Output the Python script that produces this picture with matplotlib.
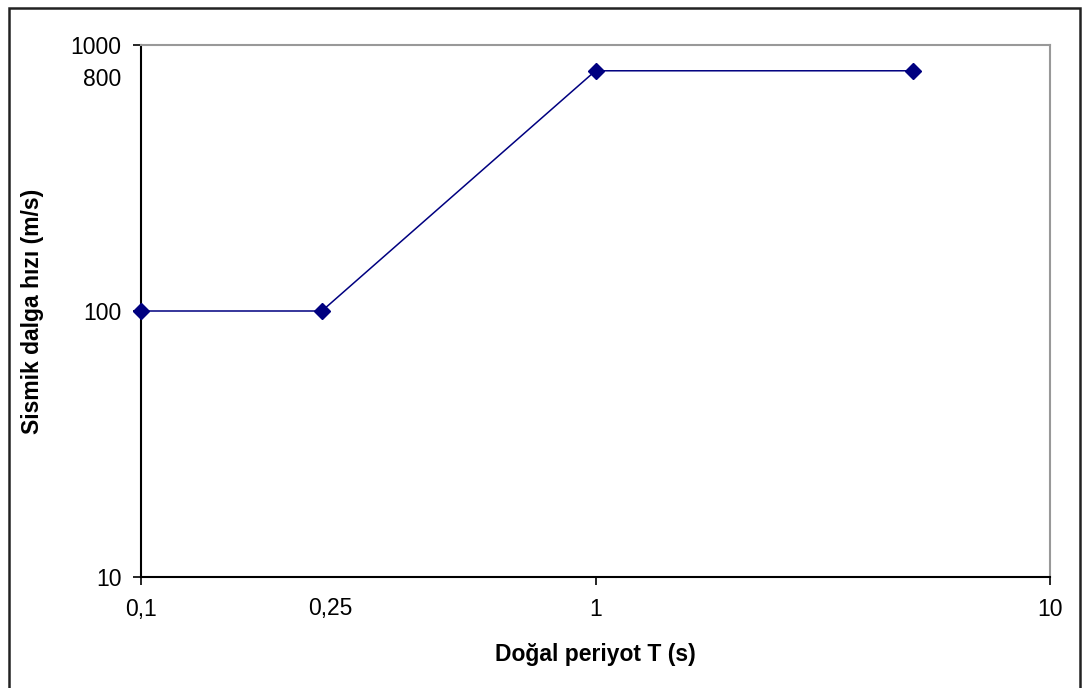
import matplotlib
matplotlib.use("Agg")
import matplotlib.pyplot as plt
import matplotlib.patches as mpatches
from matplotlib.ticker import FixedLocator, FixedFormatter, NullFormatter
import matplotlib.transforms as mtransforms

plt.rcParams['font.family'] = ['Liberation Sans', 'DejaVu Sans']

period = [0.1, 0.25, 1, 5]
velocity = [100, 100, 800, 800]
x_major = [0.1, 1, 10]
x_major_labels = ['0,1', '1', '10']
x_extra = 0.25
x_extra_label = '0,25'
y_major = [10, 100, 1000]
y_major_labels = ['10', '100', '1000']
y_extra = 800
y_extra_label = '800'

W, H = 1086, 688
TICK_FS = 16.5
LABEL_FS = 16.5
fig = plt.figure(figsize=(W / 100, H / 100), dpi=100)
ax = fig.add_axes([141 / W, 1 - 577 / H, (1050 - 141) / W, (577 - 45) / H])

ax.plot(period, velocity, color='#000080', lw=1.1, marker='D', ms=8,
        markerfacecolor='#000080', markeredgecolor='#000080', clip_on=False, zorder=5)

ax.set_xscale('log')
ax.set_yscale('log')
ax.set_xlim(0.1, 10)
ax.set_ylim(10, 1000)

ax.xaxis.set_major_locator(FixedLocator(x_major))
ax.xaxis.set_major_formatter(FixedFormatter(x_major_labels))
ax.xaxis.set_minor_locator(FixedLocator([]))
ax.xaxis.set_minor_formatter(NullFormatter())
ax.yaxis.set_major_locator(FixedLocator(y_major))
ax.yaxis.set_major_formatter(FixedFormatter(y_major_labels))
ax.yaxis.set_minor_locator(FixedLocator([]))
ax.yaxis.set_minor_formatter(NullFormatter())

ax.tick_params(axis='both', which='major', direction='out', length=6, width=1.2,
               color='black', labelsize=TICK_FS, labelcolor='black')
ax.tick_params(axis='x', which='major', pad=9)
ax.tick_params(axis='y', which='major', pad=8)

# extra labels (no tick marks), placed as in the reference
offset_y = mtransforms.ScaledTranslation(0, -9 / 100, fig.dpi_scale_trans)
ax.text(-20 / 909, y_extra, y_extra_label, fontsize=TICK_FS, ha='right', va='center',
        transform=mtransforms.blended_transform_factory(ax.transAxes, ax.transData) + offset_y)
offset_x = mtransforms.ScaledTranslation(8 / 100, 0, fig.dpi_scale_trans)
xt = ax.text(x_extra, 0, x_extra_label, fontsize=TICK_FS, ha='center', va='top',
             transform=mtransforms.blended_transform_factory(ax.transData, ax.transAxes) + offset_x)
xt.set_transform(xt.get_transform() + mtransforms.ScaledTranslation(0, -20.5 / 100, fig.dpi_scale_trans))

for side in ['left', 'bottom']:
    ax.spines[side].set_color('black')
    ax.spines[side].set_linewidth(1.5)
for side in ['top', 'right']:
    ax.spines[side].set_color('#999999')
    ax.spines[side].set_linewidth(1.5)

ax.set_xlabel('Doğal periyot T (s)', fontsize=LABEL_FS, fontweight='bold')
ax.set_ylabel('Sismik dalga hızı (m/s)', fontsize=LABEL_FS, fontweight='bold')
ax.xaxis.set_label_coords(0.5, -(655 - 577) / 532)
ax.yaxis.set_label_coords(-(141 - 33) / 909, 0.5)
ax.xaxis.label.set_va('center')
ax.yaxis.label.set_va('center')

border = mpatches.Rectangle((9 / W, -0.05), (1080 - 9) / W, 1 - 8 / H + 0.05,
                            transform=fig.transFigure, fill=False,
                            edgecolor='#222222', linewidth=1.8, zorder=10)
fig.patches.append(border)

fig.savefig('out.png', dpi=100)
